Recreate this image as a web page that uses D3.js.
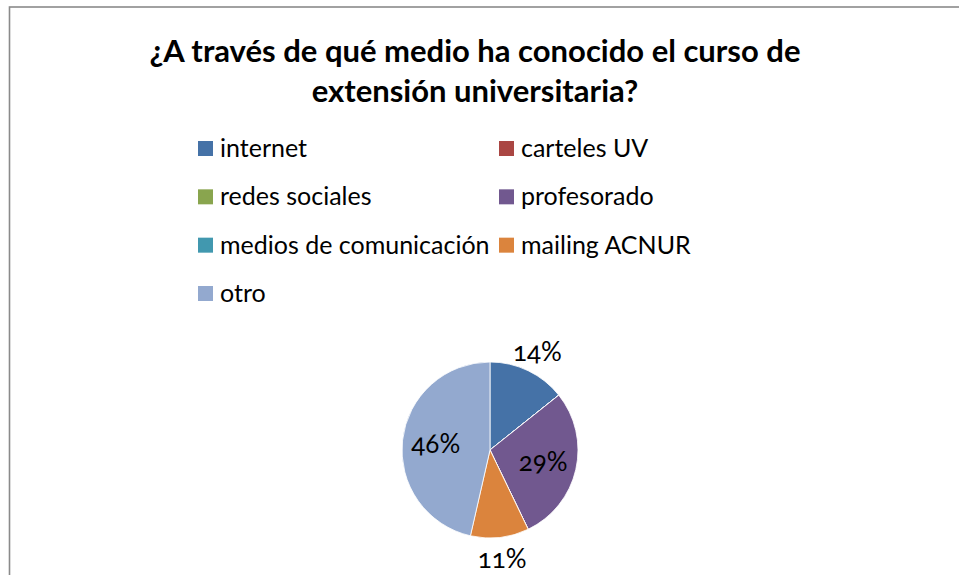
<!DOCTYPE html>
<html><head><meta charset="utf-8">
<script src="https://cdn.jsdelivr.net/npm/d3@7"></script>
<style>
html,body{margin:0;padding:0;background:#fff;}
svg{display:block;}
</style></head>
<body>
<svg id="c" width="959" height="575"></svg>
<script>
const titleLines = ["¿A través de qué medio ha conocido el curso de", "extensión universitaria?"];
const categories = ["internet", "carteles UV", "redes sociales", "profesorado", "medios de comunicación", "mailing ACNUR", "otro"];
const counts = [4, 0, 0, 8, 0, 3, 13];
const colors = ["#4572A7", "#AA4643", "#89A54E", "#71588F", "#4198AF", "#DB843D", "#93A9CF"];
const labelOutside = [true, false, false, false, false, true, false];

const svg = d3.select("#c");
svg.append("rect").attr("x", 9.5).attr("y", 7).attr("width", 1000).attr("height", 700)
  .attr("fill", "#fff").attr("stroke", "#8a8a8a").attr("stroke-width", 1.6);

const tFont = "Lato, 'Open Sans', sans-serif";
svg.append("g").selectAll("text").data(titleLines).join("text")
  .attr("x", 475).attr("y", (d, i) => 62 + i * 40)
  .attr("text-anchor", "middle").attr("font-family", tFont).attr("font-weight", "bold")
  .attr("font-size", 31).attr("fill", "#000").text(d => d);

// legend
const legend = svg.append("g");
const rowY = d3.scalePoint().domain([0, 1, 2, 3]).range([149, 294]);
const colX = d3.scalePoint().domain([0, 1]).range([198, 499]);
const items = legend.selectAll("g").data(categories).join("g")
  .attr("transform", (d, i) => `translate(${colX(i % 2)},${rowY(Math.floor(i / 2))})`);
items.append("rect").attr("x", 0).attr("y", -8).attr("width", 15).attr("height", 15)
  .attr("fill", (d, i) => colors[i]);
items.append("text").attr("x", 22).attr("y", 8).attr("font-family", tFont)
  .attr("font-size", 25).attr("fill", "#000").text(d => d);

// pie
const cx = 490, cy = 450, R = 88;
const total = d3.sum(counts);
const pie = d3.pie().sort(null).value(d => d)(counts);
const arc = d3.arc().innerRadius(0).outerRadius(R);
const g = svg.append("g").attr("transform", `translate(${cx},${cy})`);
g.selectAll("path").data(pie).join("path")
  .attr("d", arc).attr("fill", (d, i) => colors[i])
  .attr("stroke", "#fff").attr("stroke-width", 0.8);

const inArc = d3.arc().innerRadius(R * 0.62).outerRadius(R * 0.62);
const outArc = d3.arc().innerRadius(R * 1.24).outerRadius(R * 1.24);
g.selectAll("text").data(pie.filter(d => d.value > 0)).join("text")
  .attr("transform", d => {
    const c = (labelOutside[d.index] ? outArc : inArc).centroid(d);
    return `translate(${c[0]},${c[1]})`;
  })
  .attr("text-anchor", "middle").attr("dy", "0.35em")
  .attr("font-family", tFont).attr("font-size", 26)
  .style("font-variant-numeric", "oldstyle-nums")
  .attr("fill", "#000")
  .text(d => Math.round(d.value / total * 100) + "%");
</script>
</body></html>
